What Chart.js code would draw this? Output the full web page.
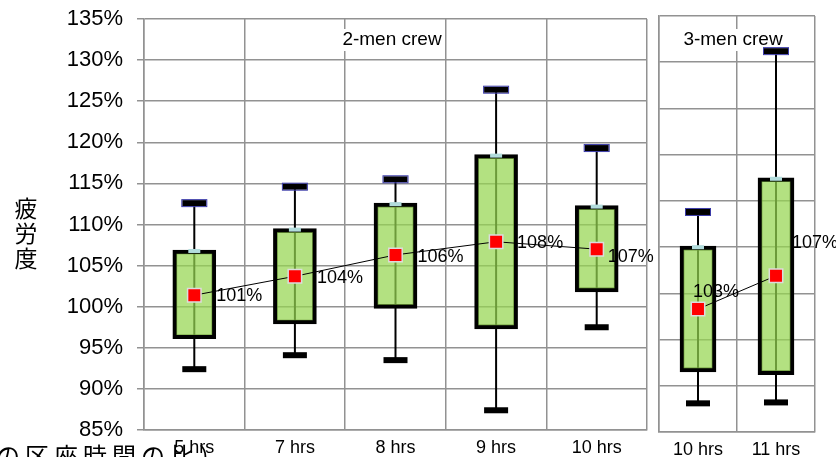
<!DOCTYPE html>
<html>
<head>
<meta charset="utf-8">
<script src="https://cdn.jsdelivr.net/npm/chart.js@4.4.1/dist/chart.umd.min.js"></script>
<style>
body{margin:0;background:#fff;width:836px;height:457px;overflow:hidden;position:relative;font-family:"Liberation Sans",Arial,sans-serif}
#c1{position:absolute;left:0;top:0}
#c2{position:absolute;left:652px;top:0}
#ytitle{position:absolute;left:12px;top:195px;width:28px;font:23px "Noto Sans CJK JP";line-height:25px;text-align:center;color:#000}
#note{position:absolute;left:-4px;top:437px;font:24px "Noto Sans CJK JP";letter-spacing:5px;white-space:nowrap;color:#000}
</style>
</head>
<body>
<canvas id="c1" width="664" height="457"></canvas>
<canvas id="c2" width="184" height="457"></canvas>
<div id="ytitle">疲<br>労<br>度</div>
<div id="note">の区座時間の比）</div>
<script>
// 2-men crew
var twoLabels = ['5 hrs', '7 hrs', '8 hrs', '9 hrs', '10 hrs'];
var twoLow  = [92.4, 94.1, 93.5, 87.4, 97.5];
var twoQ1   = [96.1, 97.9, 99.8, 97.3, 101.8];
var twoQ3   = [106.9, 109.5, 112.6, 118.5, 112.3];
var twoHigh = [112.6, 114.6, 115.5, 126.4, 119.3];
var twoMean = [101.4, 103.7, 106.3, 107.9, 107.0];

// 3-men crew
var threeLabels = ['10 hrs', '11 hrs'];
var threeLow  = [93.1, 93.2];
var threeQ1   = [96.5, 96.2];
var threeQ3   = [110.1, 117.5];
var threeHigh = [113.8, 131.2];
var threeMean = [103.3, 106.9];

var leftTicks = {min: 85, max: 135, step: 5};
var rightTicks = {min: 90, max: 135, step: 5};

var gridColor = '#929292';
var txt = '#000';

// whiskers, caps and mean labels drawn from the chart scales
var boxExtras = {
    id: 'boxExtras',
    beforeDatasetsDraw: function(chart, args, opts) {
        var c = chart.ctx, x = chart.scales.x, y = chart.scales.y;
        // panel title with white backing
        c.save();
        c.font = '19px "Liberation Sans", Arial';
        var w = c.measureText(opts.title).width;
        var tx = opts.titleX, ty = chart.chartArea.top + opts.titleDy;
        c.fillStyle = '#fff';
        c.fillRect(tx - w / 2 - 1, ty - 11, w + 2, 22);
        c.fillStyle = txt;
        c.textAlign = 'center';
        c.textBaseline = 'middle';
        c.fillText(opts.title, tx, ty);
        // whisker lines
        c.strokeStyle = '#000';
        c.lineWidth = 2;
        opts.low.forEach(function(lo, i) {
            var px = x.getPixelForValue(i);
            c.beginPath();
            c.moveTo(px, y.getPixelForValue(lo));
            c.lineTo(px, y.getPixelForValue(opts.high[i]));
            c.stroke();
        });
        c.restore();
    },
    afterDatasetsDraw: function(chart, args, opts) {
        var c = chart.ctx, x = chart.scales.x, y = chart.scales.y;
        c.save();
        opts.low.forEach(function(lo, i) {
            var px = x.getPixelForValue(i);
            var pl = y.getPixelForValue(lo), ph = y.getPixelForValue(opts.high[i]);
            var pq = y.getPixelForValue(opts.q3[i]);
            // lower cap
            c.fillStyle = '#000';
            c.fillRect(px - 12, pl - 3, 24, 6);
            // upper cap
            c.fillStyle = '#000';
            c.fillRect(px - 12, ph - 3, 24, 6);
            c.strokeStyle = '#3b3ba8';
            c.lineWidth = 1;
            c.strokeRect(px - 12.5, ph - 3.5, 25, 7);
            // q3 marker
            c.fillStyle = '#b2dcdc';
            c.fillRect(px - 6, pq - 1, 12, 4);
        });
        // mean labels
        var meta = chart.getDatasetMeta(0);
        c.font = '18px "Liberation Sans", Arial';
        c.fillStyle = txt;
        c.textAlign = 'left';
        c.textBaseline = 'middle';
        meta.data.forEach(function(pt, i) {
            var v = chart.data.datasets[0].data[i];
            var off = opts.labelOffsets[i];
            c.fillText(Math.round(v) + '%', pt.x + off[0], pt.y + off[1]);
        });
        c.restore();
    }
};

function makePanel(id, labels, low, q1, q3, high, mean, ticks, barW, showY, pad, xHeight, yWidth, title, titleX, titleDy, labelOffsets) {
    return new Chart(document.getElementById(id), {
        type: 'bar',
        data: {
            labels: labels,
            datasets: [{
                type: 'line',
                data: mean,
                borderColor: '#000',
                borderWidth: 1,
                pointStyle: 'rect',
                pointRadius: 9.5,
                pointBackgroundColor: '#ff0000',
                pointBorderColor: '#dcdcdc',
                pointBorderWidth: 1.5,
                order: 0
            }, {
                type: 'bar',
                data: labels.map(function(l, i) { return [q1[i], q3[i]]; }),
                backgroundColor: 'rgba(149,214,81,0.72)',
                borderColor: '#000',
                borderWidth: 4,
                borderSkipped: false,
                barThickness: barW,
                order: 1
            }]
        },
        options: {
            responsive: false,
            animation: false,
            layout: {padding: pad, autoPadding: false},
            plugins: {
                legend: {display: false},
                tooltip: {enabled: false},
                boxExtras: {low: low, high: high, q3: q3, title: title, titleX: titleX, titleDy: titleDy, labelOffsets: labelOffsets}
            },
            scales: {
                x: {
                    offset: true,
                    grid: {offset: true, color: gridColor, lineWidth: 1.5, drawTicks: false},
                    border: {color: gridColor, width: 1.5},
                    ticks: {color: txt, font: {family: '"Liberation Sans", Arial', size: 18}, padding: 7},
                    afterFit: function(s) { s.height = xHeight; s.paddingLeft = 0; s.paddingRight = 0; }
                },
                y: {
                    min: ticks.min,
                    max: ticks.max,
                    grid: {color: gridColor, lineWidth: 1.5, drawTicks: showY, tickLength: 7},
                    border: {color: gridColor, width: 1.5},
                    ticks: {
                        display: showY,
                        stepSize: ticks.step,
                        color: txt,
                        font: {family: '"Liberation Sans", Arial', size: 22},
                        padding: 14,
                        callback: function(v) { return v + '%'; }
                    },
                    afterFit: function(s) { s.width = yWidth; s.paddingTop = 0; s.paddingBottom = 0; }
                }
            }
        },
        plugins: [boxExtras]
    });
}

makePanel('c1', twoLabels, twoLow, twoQ1, twoQ3, twoHigh, twoMean, leftTicks, 43, true,
    {top: 19, right: 17, left: 0, bottom: 0}, 27, 144, '2-men crew', 392, 21,
    [[22, 1], [22, 2], [22, 2], [21, 1], [11, 8]]);

makePanel('c2', threeLabels, threeLow, threeQ1, threeQ3, threeHigh, threeMean, rightTicks, 36, false,
    {top: 16, right: 21, left: 0, bottom: 0}, 25, 7, '3-men crew', 81, 24,
    [[-5, -17], [16, -33]]);
</script>
</body>
</html>
